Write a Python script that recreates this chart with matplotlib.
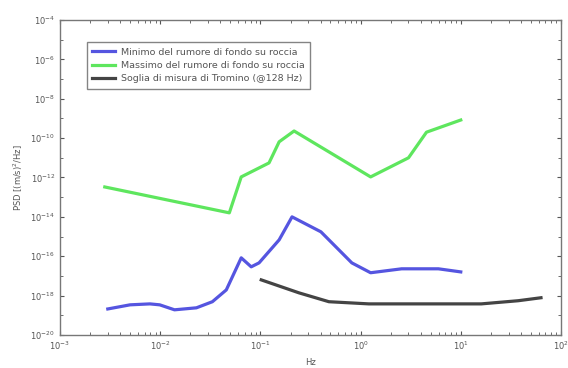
import matplotlib.pyplot as plt
from matplotlib.ticker import LogLocator, FixedLocator, NullFormatter

# rock background noise, minimum curve
f_min = [0.003, 0.005, 0.0079, 0.0099, 0.0139, 0.023, 0.0332, 0.0457, 0.0644,
         0.081, 0.097, 0.154, 0.207, 0.402, 0.818, 1.26, 2.57, 5.98, 10.0]
psd_min = [2.1e-19, 3.4e-19, 3.8e-19, 3.4e-19, 1.9e-19, 2.4e-19, 4.9e-19, 1.95e-18,
           8.3e-17, 2.9e-17, 4.6e-17, 6.8e-16, 1.0e-14, 1.74e-15, 4.6e-17, 1.45e-17,
           2.3e-17, 2.3e-17, 1.6e-17]

# rock background noise, maximum curve
f_max = [0.0028, 0.049, 0.0644, 0.122, 0.154, 0.217, 1.26, 3.01, 4.55, 10.0]
psd_max = [3.3e-13, 1.6e-14, 1.07e-12, 5.5e-12, 6.5e-11, 2.3e-10, 1.07e-12, 1.0e-11,
           2.0e-10, 8.3e-10]

# Tromino measurement threshold at 128 Hz sampling
f_thr = [0.102, 0.243, 0.483, 1.21, 16.0, 37.4, 63.2]
psd_thr = [6.3e-18, 1.38e-18, 4.9e-19, 3.8e-19, 3.8e-19, 5.5e-19, 7.8e-19]

labels = ["Minimo del rumore di fondo su roccia",
          "Massimo del rumore di fondo su roccia",
          "Soglia di misura di Tromino (@128 Hz)"]

fig = plt.figure(figsize=(5.68, 3.68), dpi=100)
ax = fig.add_axes([0.1056, 0.0897, 0.8820, 0.856])

ax.loglog(f_min, psd_min, color="#5555e0", lw=2.3, label=labels[0])
ax.loglog(f_max, psd_max, color="#5ee65e", lw=2.3, label=labels[1])
ax.loglog(f_thr, psd_thr, color="#444444", lw=2.3, label=labels[2])

ax.set_xlim(1e-3, 1e2)
ax.set_ylim(1e-20, 1e-4)

ax.xaxis.set_major_locator(LogLocator(base=10, numticks=10))
ax.xaxis.set_minor_locator(LogLocator(base=10, subs=range(2, 10), numticks=20))
ax.xaxis.set_minor_formatter(NullFormatter())
ax.yaxis.set_major_locator(FixedLocator([10.0**e for e in range(-20, -3, 2)]))
ax.yaxis.set_minor_locator(FixedLocator([10.0**e for e in range(-19, -4, 2)]))
ax.yaxis.set_minor_formatter(NullFormatter())

ax.tick_params(which="both", direction="in", top=True, right=True,
               colors="#555555", labelcolor="#555555", labelsize=6)
ax.tick_params(which="major", length=3, width=0.8)
ax.tick_params(which="minor", length=2, width=0.6)
for s in ax.spines.values():
    s.set_color("#777777")
    s.set_linewidth(1.0)

ax.set_xlabel("Hz", fontsize=6, color="#555555", labelpad=4)
ax.set_ylabel("PSD [(m/s)$^2$/Hz]", fontsize=6, color="#555555", labelpad=4)

leg = ax.legend(loc="upper left", bbox_to_anchor=(0.044, 0.945), fontsize=6.8,
                frameon=True, fancybox=False, handlelength=2.4,
                borderpad=0.6, labelspacing=0.45, handletextpad=0.6)
leg.get_frame().set_edgecolor("#666666")
leg.get_frame().set_linewidth(1.0)
for t in leg.get_texts():
    t.set_color("#555555")

fig.savefig("out.png", dpi=100)
